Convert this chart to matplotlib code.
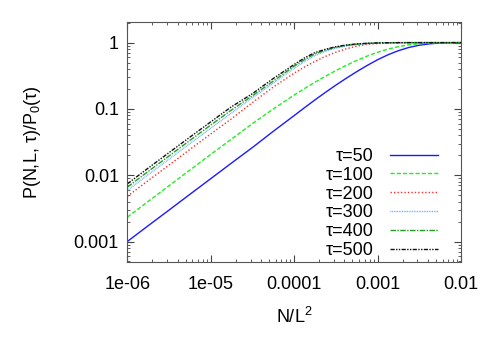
import matplotlib
matplotlib.use("Agg")
import matplotlib.pyplot as plt

plt.rcParams['font.family'] = ['Liberation Sans', 'DejaVu Sans']
plt.rcParams['mathtext.fontset'] = 'custom'
plt.rcParams['mathtext.rm'] = 'Liberation Sans'

# N/L^2 sample positions (quarter decades, eighth decades near the knee)
x = [1e-6, 1.778e-6, 3.162e-6, 5.623e-6, 1e-5, 1.778e-5, 3.162e-5, 5.623e-5,
     1e-4, 1.334e-4, 1.778e-4, 2.371e-4, 3.162e-4, 4.217e-4, 5.623e-4, 7.499e-4,
     1e-3, 1.334e-3, 1.778e-3, 2.371e-3, 3.162e-3, 4.217e-3, 5.623e-3, 7.499e-3,
     1e-2]

p50 = [0.00100, 0.00173, 0.00298, 0.00515, 0.00887, 0.0153, 0.0262, 0.0460,
       0.0794, 0.1047, 0.1371, 0.1778, 0.2287, 0.2904, 0.3648, 0.4529,
       0.5521, 0.6561, 0.7568, 0.8453, 0.9141, 0.9594, 0.9863, 0.9977, 1.0]
p100 = [0.00233, 0.00402, 0.00694, 0.01195, 0.0206, 0.0352, 0.0601, 0.100,
        0.162, 0.2034, 0.2530, 0.3112, 0.3790, 0.4547, 0.5384, 0.6267,
        0.7157, 0.7993, 0.8710, 0.9256, 0.9620, 0.9835, 0.9945, 0.9986, 1.0]
p200 = [0.0048, 0.0083, 0.0142, 0.0245, 0.0419, 0.0712, 0.125, 0.214,
        0.347, 0.429, 0.522, 0.620, 0.718, 0.808, 0.884, 0.942,
        0.970, 0.986, 0.995, 0.999, 1.0, 1.0, 1.0, 1.0, 1.0]
p300 = [0.0059, 0.0102, 0.0175, 0.0300, 0.0512, 0.0869, 0.148, 0.245,
        0.412, 0.519, 0.638, 0.741, 0.826, 0.891, 0.938, 0.966,
        0.984, 0.993, 0.997, 0.999, 1.0, 1.0, 1.0, 1.0, 1.0]
p400 = [0.0066, 0.0114, 0.0195, 0.0335, 0.0571, 0.0966, 0.158, 0.263,
        0.442, 0.556, 0.676, 0.771, 0.851, 0.910, 0.948, 0.973,
        0.988, 0.995, 0.999, 1.0, 1.0, 1.0, 1.0, 1.0, 1.0]
p500 = [0.0074, 0.0128, 0.0219, 0.0375, 0.0638, 0.108, 0.170, 0.288,
        0.468, 0.589, 0.708, 0.794, 0.867, 0.920, 0.955, 0.977,
        0.990, 0.996, 0.999, 1.0, 1.0, 1.0, 1.0, 1.0, 1.0]

labels = ['τ=50', 'τ=100', 'τ=200', 'τ=300', 'τ=400', 'τ=500']
series = [p50, p100, p200, p300, p400, p500]
colors = ['#1a1aff', '#22ee22', '#ff2a2a', '#5aa8ff', '#22a022', '#111111']
styles = ['-', (0, (3, 1.5)), (0, (1, 1.5)), (0, (0.6, 0.6)), (0, (4, 1, 1, 1)),
          (0, (3, 1, 1, 1, 1, 1))]

xticks = [1e-6, 1e-5, 1e-4, 1e-3, 1e-2]
xticklabels = ['1e-06', '1e-05', '0.0001', '0.001', '0.01']
yticks = [0.001, 0.01, 0.1, 1]
yticklabels = ['0.001', '0.01', '0.1', '1']

fig = plt.figure(figsize=(4.91, 3.43), dpi=100)
ax = fig.add_axes([0.2593, 0.236, 0.6797, 0.70])

for y, lab, c, ls in zip(series, labels, colors, styles):
    ax.plot(x, y, color=c, linestyle=ls, linewidth=1.0, label=lab)

ax.set_xscale('log')
ax.set_yscale('log')
ax.set_xlim(1e-6, 1e-2)
ax.set_ylim(0.00049, 2.05)
ax.set_xticks(xticks, xticklabels)
ax.set_yticks(yticks, yticklabels)
ax.tick_params(which='both', direction='in', top=True, right=True,
               labelsize=13, colors='#444444', labelcolor='black')
ax.tick_params(which='major', length=5)
ax.tick_params(which='minor', length=2.5)
ax.tick_params(axis='x', which='major', pad=10)
ax.tick_params(axis='y', which='major', pad=6)
for s in ax.spines.values():
    s.set_color('#555555')

ax.set_xlabel('N/L$^2$', fontsize=13, labelpad=10)
ax.set_ylabel('P(N,L, τ)/P$_0$(τ)', fontsize=13, labelpad=22)

ax.legend(loc='lower right', markerfirst=False, frameon=False, fontsize=13,
          handlelength=2.7, handletextpad=0.9, labelspacing=0.1,
          borderpad=0.2, bbox_to_anchor=(0.97, -0.04))

fig.savefig('out.png', dpi=100)
